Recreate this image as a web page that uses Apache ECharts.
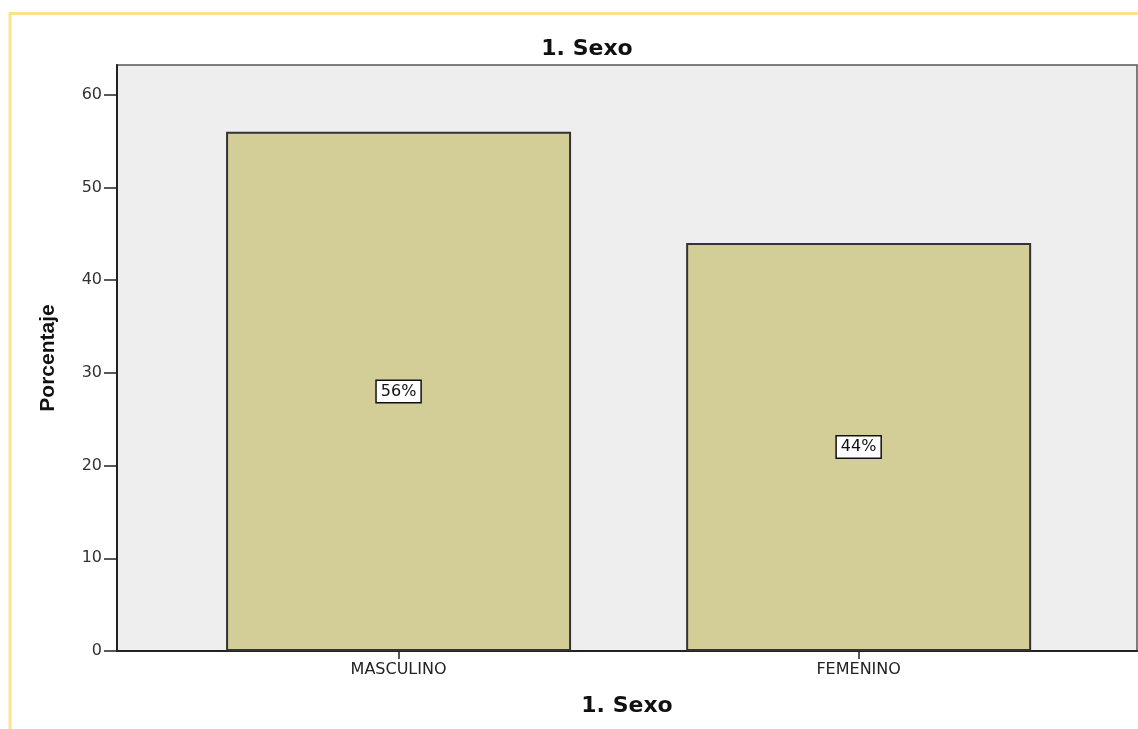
<!DOCTYPE html>
<html lang="es" style="height: 100%">
<head>
  <meta charset="utf-8">
</head>
<body style="height: 100%; margin: 0; background: #fff">
  <div id="container" style="width: 1138px; height: 729px"></div>

  <script type="text/javascript" src="https://cdn.jsdelivr.net/npm/echarts@6/dist/echarts.min.js"></script>
  <script type="text/javascript">
    var categories = ['MASCULINO', 'FEMENINO'];
    var porcentajes = [56, 44];
    var yTicks = [0, 10, 20, 30, 40, 50, 60];

    var dom = document.getElementById('container');
    var myChart = echarts.init(dom, null, { renderer: 'canvas' });
    var option;

    var barData = categories.map(function (c, i) {
      return [i, porcentajes[i]];
    });

    option = {
      animation: false,
      backgroundColor: '#ffffff',
      title: {
        text: '1. Sexo',
        left: 582,
        top: 33,
        textAlign: 'center',
        textStyle: {
          fontFamily: 'DejaVu Sans',
          fontWeight: 'bold',
          fontSize: 22,
          color: '#111'
        }
      },
      graphic: [
        {
          type: 'rect',
          silent: true,
          z: -10,
          shape: { x: 10, y: 13.5, width: 1300, height: 900 },
          style: { fill: null, stroke: '#fbe38e', lineWidth: 3 }
        }
      ],
      grid: {
        left: 117,
        right: 1,
        top: 65,
        bottom: 78,
        show: true,
        backgroundColor: '#eeeeee',
        borderColor: '#555',
        borderWidth: 1.5
      },
      xAxis: {
        type: 'value',
        min: -0.612,
        max: 1.605,
        name: '1. Sexo',
        nameLocation: 'middle',
        nameGap: 44,
        nameTextStyle: {
          fontFamily: 'DejaVu Sans',
          fontWeight: 'bold',
          fontSize: 22,
          color: '#111'
        },
        splitLine: { show: false },
        axisLine: { show: true, onZero: false, lineStyle: { color: '#222', width: 2 } },
        axisTick: {
          show: true,
          length: 8,
          customValues: categories.map(function (c, i) { return i; }),
          lineStyle: { color: '#222', width: 1.5 }
        },
        axisLabel: {
          customValues: categories.map(function (c, i) { return i; }),
          formatter: function (v) { return categories[Math.round(v)]; },
          margin: 11,
          fontFamily: 'DejaVu Sans',
          fontSize: 16,
          color: '#222'
        }
      },
      yAxis: {
        type: 'value',
        min: 0,
        max: 63.2,
        interval: 10,
        name: 'Porcentaje',
        nameLocation: 'middle',
        nameGap: 58,
        nameRotate: 90,
        nameTextStyle: {
          fontFamily: 'Arial, "Liberation Sans", sans-serif',
          fontWeight: 'bold',
          fontSize: 21,
          color: '#111'
        },
        splitLine: { show: false },
        axisLine: { show: true, onZero: false, lineStyle: { color: '#222', width: 2 } },
        axisTick: {
          show: true,
          length: 13,
          customValues: yTicks,
          lineStyle: { color: '#222', width: 1.5 }
        },
        axisLabel: {
          customValues: yTicks,
          margin: 15,
          fontFamily: 'DejaVu Sans',
          fontSize: 16,
          color: '#333'
        }
      },
      series: [
        {
          type: 'bar',
          data: barData,
          barWidth: 345,
          itemStyle: {
            color: '#d3ce98',
            borderColor: '#333',
            borderWidth: 2
          },
          label: {
            show: true,
            position: 'inside',
            formatter: function (p) { return p.value[1] + '%'; },
            fontFamily: 'DejaVu Sans',
            fontSize: 16,
            color: '#111',
            backgroundColor: '#ffffff',
            borderColor: '#111',
            borderWidth: 1.5,
            padding: [3, 4, 2, 4]
          }
        }
      ]
    };

    if (option && typeof option === 'object') {
      myChart.setOption(option);
    }

    window.addEventListener('resize', myChart.resize);
  </script>
</body>
</html>
